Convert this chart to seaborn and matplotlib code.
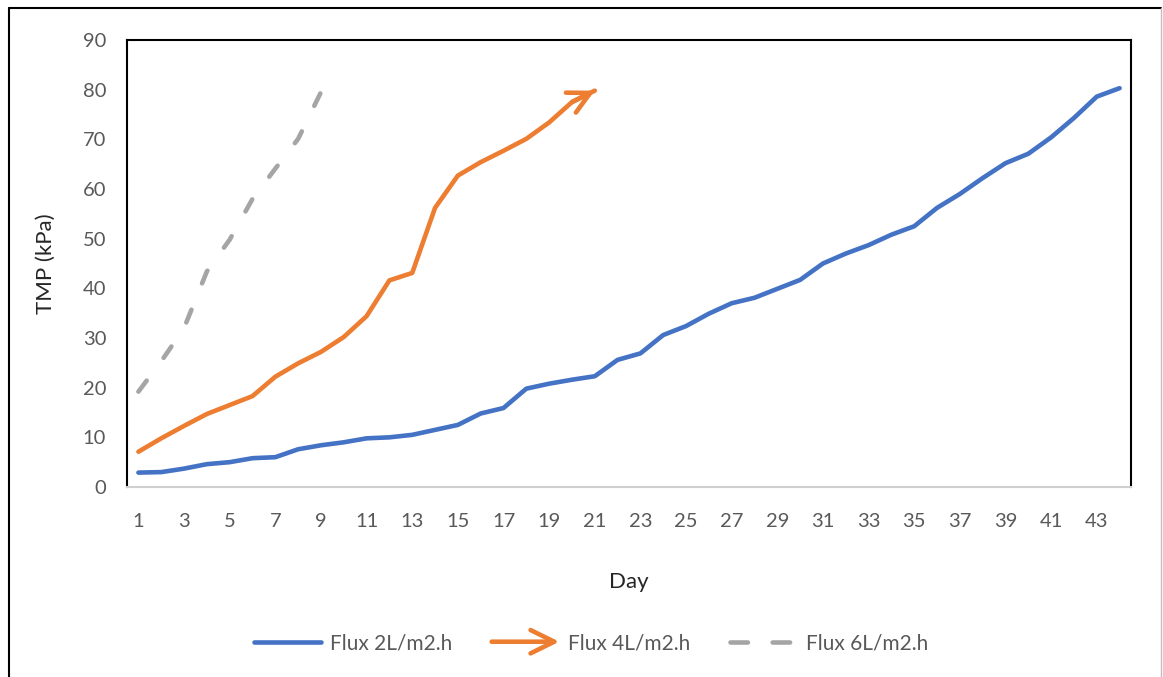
import numpy as np
import pandas as pd
import matplotlib
matplotlib.use("Agg")
import matplotlib.pyplot as plt
import seaborn as sns
from matplotlib.lines import Line2D
from matplotlib.patches import FancyArrowPatch
from matplotlib.legend_handler import HandlerBase

# ---------------- data ----------------
flux2_tmp = [2.9, 3.0, 3.7, 4.6, 5.0, 5.8, 6.0, 7.6, 8.4, 9.0,
             9.8, 10.0, 10.5, 11.5, 12.5, 14.8, 15.9, 19.8, 20.8, 21.6,
             22.3, 25.6, 26.9, 30.6, 32.4, 34.9, 37.0, 38.1, 39.9, 41.7,
             45.0, 47.0, 48.7, 50.8, 52.5, 56.2, 59.0, 62.2, 65.2, 67.1,
             70.4, 74.3, 78.6, 80.3]
flux4_tmp = [7.1, 9.8, 12.3, 14.7, 16.5, 18.3, 22.2, 24.9, 27.2, 30.2,
             34.4, 41.6, 43.1, 56.2, 62.7, 65.4, 67.7, 70.1, 73.4, 77.5,
             79.8]
flux6_tmp = [19.2, 25.3, 32.0, 43.4, 49.8, 58.0, 64.1, 70.1, 79.5]
series_labels = ["Flux 2L/m2.h", "Flux 4L/m2.h", "Flux 6L/m2.h"]
x_tick_labels = list(range(1, 44, 2))
y_ticks = list(range(0, 91, 10))
x_title = "Day"
y_title = "TMP (kPa)"

# ---------------- style ----------------
sns.set_style("white")
plt.rcParams['font.family'] = ['Lato', 'DejaVu Sans']

BLUE = "#4472C4"
ORANGE = "#ED7D31"
GRAY = "#A5A5A5"
TICK_C = "#595959"
LW = 3.3

fig = plt.figure(figsize=(11.63, 6.77), dpi=100)
ax = fig.add_axes([127 / 1163, 1 - 487 / 677, (1131 - 127) / 1163, (487 - 40) / 677])

d2 = pd.DataFrame({"day": np.arange(1, len(flux2_tmp) + 1), "tmp": flux2_tmp})
d4 = pd.DataFrame({"day": np.arange(1, len(flux4_tmp) + 1), "tmp": flux4_tmp})
d6 = pd.DataFrame({"day": np.arange(1, len(flux6_tmp) + 1), "tmp": flux6_tmp})

sns.lineplot(data=d2, x="day", y="tmp", ax=ax, color=BLUE, lw=LW,
             solid_capstyle="round", solid_joinstyle="round", legend=False)
sns.lineplot(data=d4, x="day", y="tmp", ax=ax, color=ORANGE, lw=LW,
             solid_capstyle="round", solid_joinstyle="round", legend=False)
sns.lineplot(data=d6, x="day", y="tmp", ax=ax, color=GRAY, lw=LW,
             dashes=False, legend=False)
# apply dash pattern to gray line
ax.lines[-1].set_dashes((3.0, 6.2))
ax.lines[-1].set_dash_capstyle("round")

# arrow head at the end of the orange line
ax.annotate("", xy=(len(flux4_tmp), flux4_tmp[-1]),
            xytext=(len(flux4_tmp) - 1, flux4_tmp[-2]),
            arrowprops=dict(arrowstyle="->,head_length=0.78,head_width=0.4",
                            color=ORANGE, lw=LW, shrinkA=0, shrinkB=0,
                            mutation_scale=20, capstyle="round",
                            joinstyle="round"))

ax.set_xlim(0.5, len(flux2_tmp) + 0.5)
ax.set_ylim(0, 90)
ax.set_yticks(y_ticks)
ax.set_xticks(x_tick_labels)
ax.set_xticklabels([str(v) for v in x_tick_labels])
ax.tick_params(axis="both", length=0, labelsize=14.5, colors=TICK_C)
ax.tick_params(axis="x", pad=19)
ax.tick_params(axis="y", pad=15)
ax.set_xlabel(x_title, fontsize=16, color="#262626", labelpad=30)
ax.set_ylabel(y_title, fontsize=16, color="#262626", labelpad=19)

for side in ["left", "top", "right"]:
    ax.spines[side].set_color("black")
    ax.spines[side].set_linewidth(1.5)
ax.spines["bottom"].set_color("#D0D0D0")
ax.spines["bottom"].set_linewidth(1.5)
ax.grid(False)


class HandlerArrow(HandlerBase):
    def create_artists(self, legend, orig_handle, xdescent, ydescent,
                       width, height, fontsize, trans):
        y = height / 2 - ydescent
        p = FancyArrowPatch((-xdescent, y), (width - xdescent, y),
                            arrowstyle="->,head_length=0.85,head_width=0.42",
                            mutation_scale=20, color=ORANGE, lw=LW,
                            capstyle="round", joinstyle="round",
                            shrinkA=0, shrinkB=0, transform=trans)
        return [p]


h_blue = Line2D([], [], color=BLUE, lw=LW, solid_capstyle="round")
h_orange = Line2D([], [], color=ORANGE, lw=LW)
h_gray = Line2D([], [], color=GRAY, lw=LW, dash_capstyle="round")
h_gray.set_dashes((3.8, 5.4))

leg = fig.legend([h_blue, h_orange, h_gray], series_labels,
                 loc="center", bbox_to_anchor=(0.508, 1 - 643 / 677),
                 ncol=3, frameon=False, fontsize=15, handlelength=3.25,
                 handletextpad=0.4, columnspacing=1.9,
                 handler_map={h_orange: HandlerArrow()})
for t in leg.get_texts():
    t.set_color(TICK_C)

# outer chart border
fig.add_artist(Line2D([8.5 / 1163, 8.5 / 1163], [0, 1 - 7.5 / 677],
                      transform=fig.transFigure, color="black", lw=1.5))
fig.add_artist(Line2D([8.5 / 1163, 1161 / 1163], [1 - 7.5 / 677, 1 - 7.5 / 677],
                      transform=fig.transFigure, color="black", lw=1.5))
fig.add_artist(Line2D([1161 / 1163, 1161 / 1163], [0, 1 - 7.5 / 677],
                      transform=fig.transFigure, color="#BFBFBF", lw=1.0))

fig.savefig("out.png", dpi=100)
